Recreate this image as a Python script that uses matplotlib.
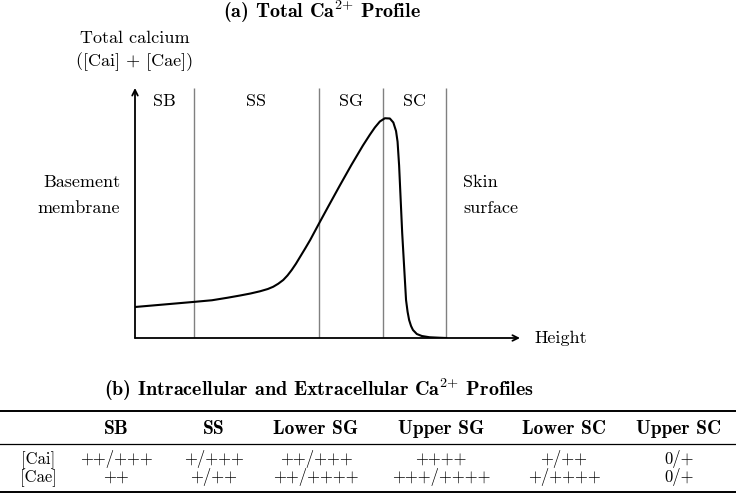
import matplotlib
matplotlib.use("Agg")
import matplotlib.pyplot as plt
from matplotlib.lines import Line2D

plt.rcParams['font.family'] = ['cmr10', 'DejaVu Serif']
plt.rcParams['mathtext.fontset'] = 'cm'
plt.rcParams['axes.unicode_minus'] = False

# ---- data ----
height = [0, 0.75, 1.5, 2.0, 2.4, 2.73, 3.0, 3.25, 3.45, 3.59, 3.72, 3.85, 3.96, 4.07,
          4.18, 4.29, 4.42, 4.55, 4.79, 5.02, 5.32, 5.62, 5.92, 6.10, 6.23, 6.36, 6.49,
          6.62, 6.71, 6.78, 6.82, 6.86, 6.94, 7.04, 7.08, 7.12, 7.17, 7.22, 7.32, 7.45,
          7.65, 7.92, 8.08]
total_ca = [1.24, 1.34, 1.44, 1.51, 1.61, 1.70, 1.78, 1.87, 1.96, 2.05, 2.17, 2.32, 2.50,
            2.72, 2.97, 3.25, 3.58, 3.92, 4.61, 5.26, 6.10, 6.92, 7.70, 8.13, 8.42, 8.66,
            8.79, 8.78, 8.62, 8.28, 7.85, 6.9, 4.2, 1.52, 1.05, 0.72, 0.48, 0.32, 0.16,
            0.08, 0.03, 0.01, 0.0]
layer_bounds = [0.0, 1.53, 4.78, 6.44, 8.08]
layer_names = ['SB', 'SS', 'SG', 'SC']

table_cols = ['SB', 'SS', 'Lower SG', 'Upper SG', 'Lower SC', 'Upper SC']
row_labels = ['[Cai]', '[Cae]']
cai = ['++/+++', '+/+++', '++/+++', '++++', '+/++', '0/+']
cae = ['++', '+/++', '++/++++', '+++/++++', '+/++++', '0/+']

W, H = 736, 503
fig = plt.figure(figsize=(W / 100, H / 100), dpi=100)

# overlay axes in pixel coordinates for text / table layout
ov = fig.add_axes([0, 0, 1, 1])
ov.set_xlim(0, W)
ov.set_ylim(H, 0)
ov.axis('off')

# plot axes
x0, x1, ytop, ybot = 135, 520, 88, 338
ax = fig.add_axes([x0 / W, (H - ybot) / H, (x1 - x0) / W, (ybot - ytop) / H])
ax.set_xlim(0, 10)
ax.set_ylim(0, 10)
ax.axis('off')

for b in layer_bounds[1:]:
    ax.plot([b, b], [0, 10], color='#808080', lw=1.0, solid_capstyle='butt')
for i, name in enumerate(layer_names):
    xc = (layer_bounds[i] + layer_bounds[i + 1]) / 2
    ax.text(xc, 9.3, name, ha='center', va='baseline', fontsize=13)

ax.plot(height, total_ca, color='black', lw=1.5, solid_joinstyle='round')

ax.annotate('', xy=(0, 1), xytext=(0, 0), xycoords='axes fraction',
            arrowprops=dict(arrowstyle='->', lw=1.3, color='black', shrinkA=0, shrinkB=0))
ax.annotate('', xy=(1, 0), xytext=(0, 0), xycoords='axes fraction',
            arrowprops=dict(arrowstyle='->', lw=1.3, color='black', shrinkA=0, shrinkB=0))

# texts of part (a)
fs = 13
bfs = 14.5
ov.text(322, 18, r'(a) Total Ca$^{\mathbf{2{+}}}$ Profile', fontfamily='cmb10',
        ha='center', va='baseline', fontsize=bfs)
ov.text(135, 43, 'Total calcium', ha='center', va='baseline', fontsize=fs)
ov.text(135, 66, '([Cai] + [Cae])', ha='center', va='baseline', fontsize=fs)
ov.text(120, 187, 'Basement', ha='right', va='baseline', fontsize=fs)
ov.text(120, 213, 'membrane', ha='right', va='baseline', fontsize=fs)
ov.text(463, 187, 'Skin', ha='left', va='baseline', fontsize=fs)
ov.text(463, 213, 'surface', ha='left', va='baseline', fontsize=fs)
ov.text(534, 343, 'Height', ha='left', va='baseline', fontsize=fs)

# table (b)
ov.text(319, 396, r'(b) Intracellular and Extracellular Ca$^{\mathbf{2{+}}}$ Profiles',
        fontfamily='cmb10', ha='center', va='baseline', fontsize=bfs)
ov.add_line(Line2D([0, W], [411, 411], color='black', lw=1.4))
ov.add_line(Line2D([0, W], [444, 444], color='black', lw=0.9))
ov.add_line(Line2D([0, W], [492, 492], color='black', lw=1.4))

col_x = [116, 214, 316, 441, 564, 679]
label_x = 38
tfs = 12
for cx, c in zip(col_x, table_cols):
    ov.text(cx, 434, c, fontfamily='cmb10', ha='center', va='baseline', fontsize=14)
for ry, lab, vals in zip([464.5, 482.5], row_labels, [cai, cae]):
    ov.text(label_x, ry, lab, ha='center', va='baseline', fontsize=tfs)
    for cx, v in zip(col_x, vals):
        ov.text(cx, ry, v, ha='center', va='baseline', fontsize=tfs)

fig.savefig('out.png', dpi=100)
